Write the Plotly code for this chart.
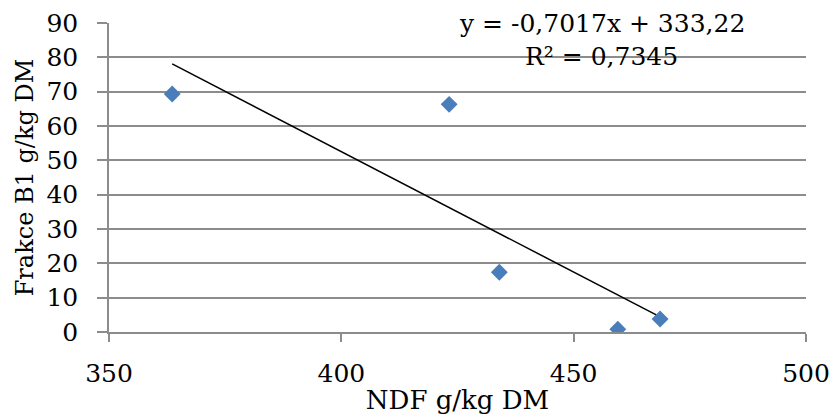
import numpy as np
import plotly.graph_objects as go

ndf = [363.6, 423.2, 434.0, 459.5, 468.6]
b1 = [69.3, 66.3, 17.4, 0.8, 3.8]
slope = -0.7017
intercept = 333.22
eq_line1 = "y = -0,7017x + 333,22"
eq_line2 = "R² = 0,7345"
x_ticks = [350, 400, 450, 500]
y_ticks = [0, 10, 20, 30, 40, 50, 60, 70, 80, 90]

FONT = "DejaVu Serif"
FS = 25

fig = go.Figure()
tx = np.array([min(ndf), max(ndf)])
fig.add_trace(go.Scatter(x=tx, y=slope * tx + intercept, mode="lines",
                         line=dict(color="black", width=1.5), hoverinfo="skip"))
fig.add_trace(go.Scatter(x=ndf, y=b1, mode="markers",
                         marker=dict(symbol="diamond", size=13, color="#4a7ebb",
                                     line=dict(width=0))))

fig.add_annotation(x=456, y=90, xref="x", yref="y", text=eq_line1,
                   showarrow=False, font=dict(family=FONT, size=FS, color="black"))
fig.add_annotation(x=456, y=80.1, xref="x", yref="y", text=eq_line2,
                   showarrow=False, font=dict(family=FONT, size=FS, color="black"))

fig.update_layout(
    width=832, height=420,
    margin=dict(l=109, r=26, t=23, b=88),
    plot_bgcolor="white", paper_bgcolor="white",
    showlegend=False,
    font=dict(family=FONT, size=FS, color="black"),
)

fig.update_xaxes(range=[350, 500], tickvals=x_ticks, showgrid=False, automargin=False,
                 showline=True, linecolor="#8c8c8c", linewidth=1.5,
                 ticks="outside", ticklen=8, tickcolor="#8c8c8c", tickwidth=1.5,
                 zeroline=False, ticklabelstandoff=10,
                 tickfont=dict(family=FONT, size=FS),
                 title=dict(text="NDF g/kg DM", font=dict(family=FONT, size=26), standoff=4))
fig.update_yaxes(range=[0, 90], tickvals=y_ticks, showgrid=True, automargin=False,
                 gridcolor="#8c8c8c", gridwidth=1.5,
                 showline=True, linecolor="#8c8c8c", linewidth=1.5,
                 ticks="outside", ticklen=10, tickcolor="#8c8c8c", tickwidth=1.5,
                 zeroline=False, ticklabelstandoff=14,
                 tickfont=dict(family=FONT, size=FS),
                 title=dict(text="Frakce B1 g/kg DM", font=dict(family=FONT, size=24), standoff=6))

fig.write_html("out.html")
